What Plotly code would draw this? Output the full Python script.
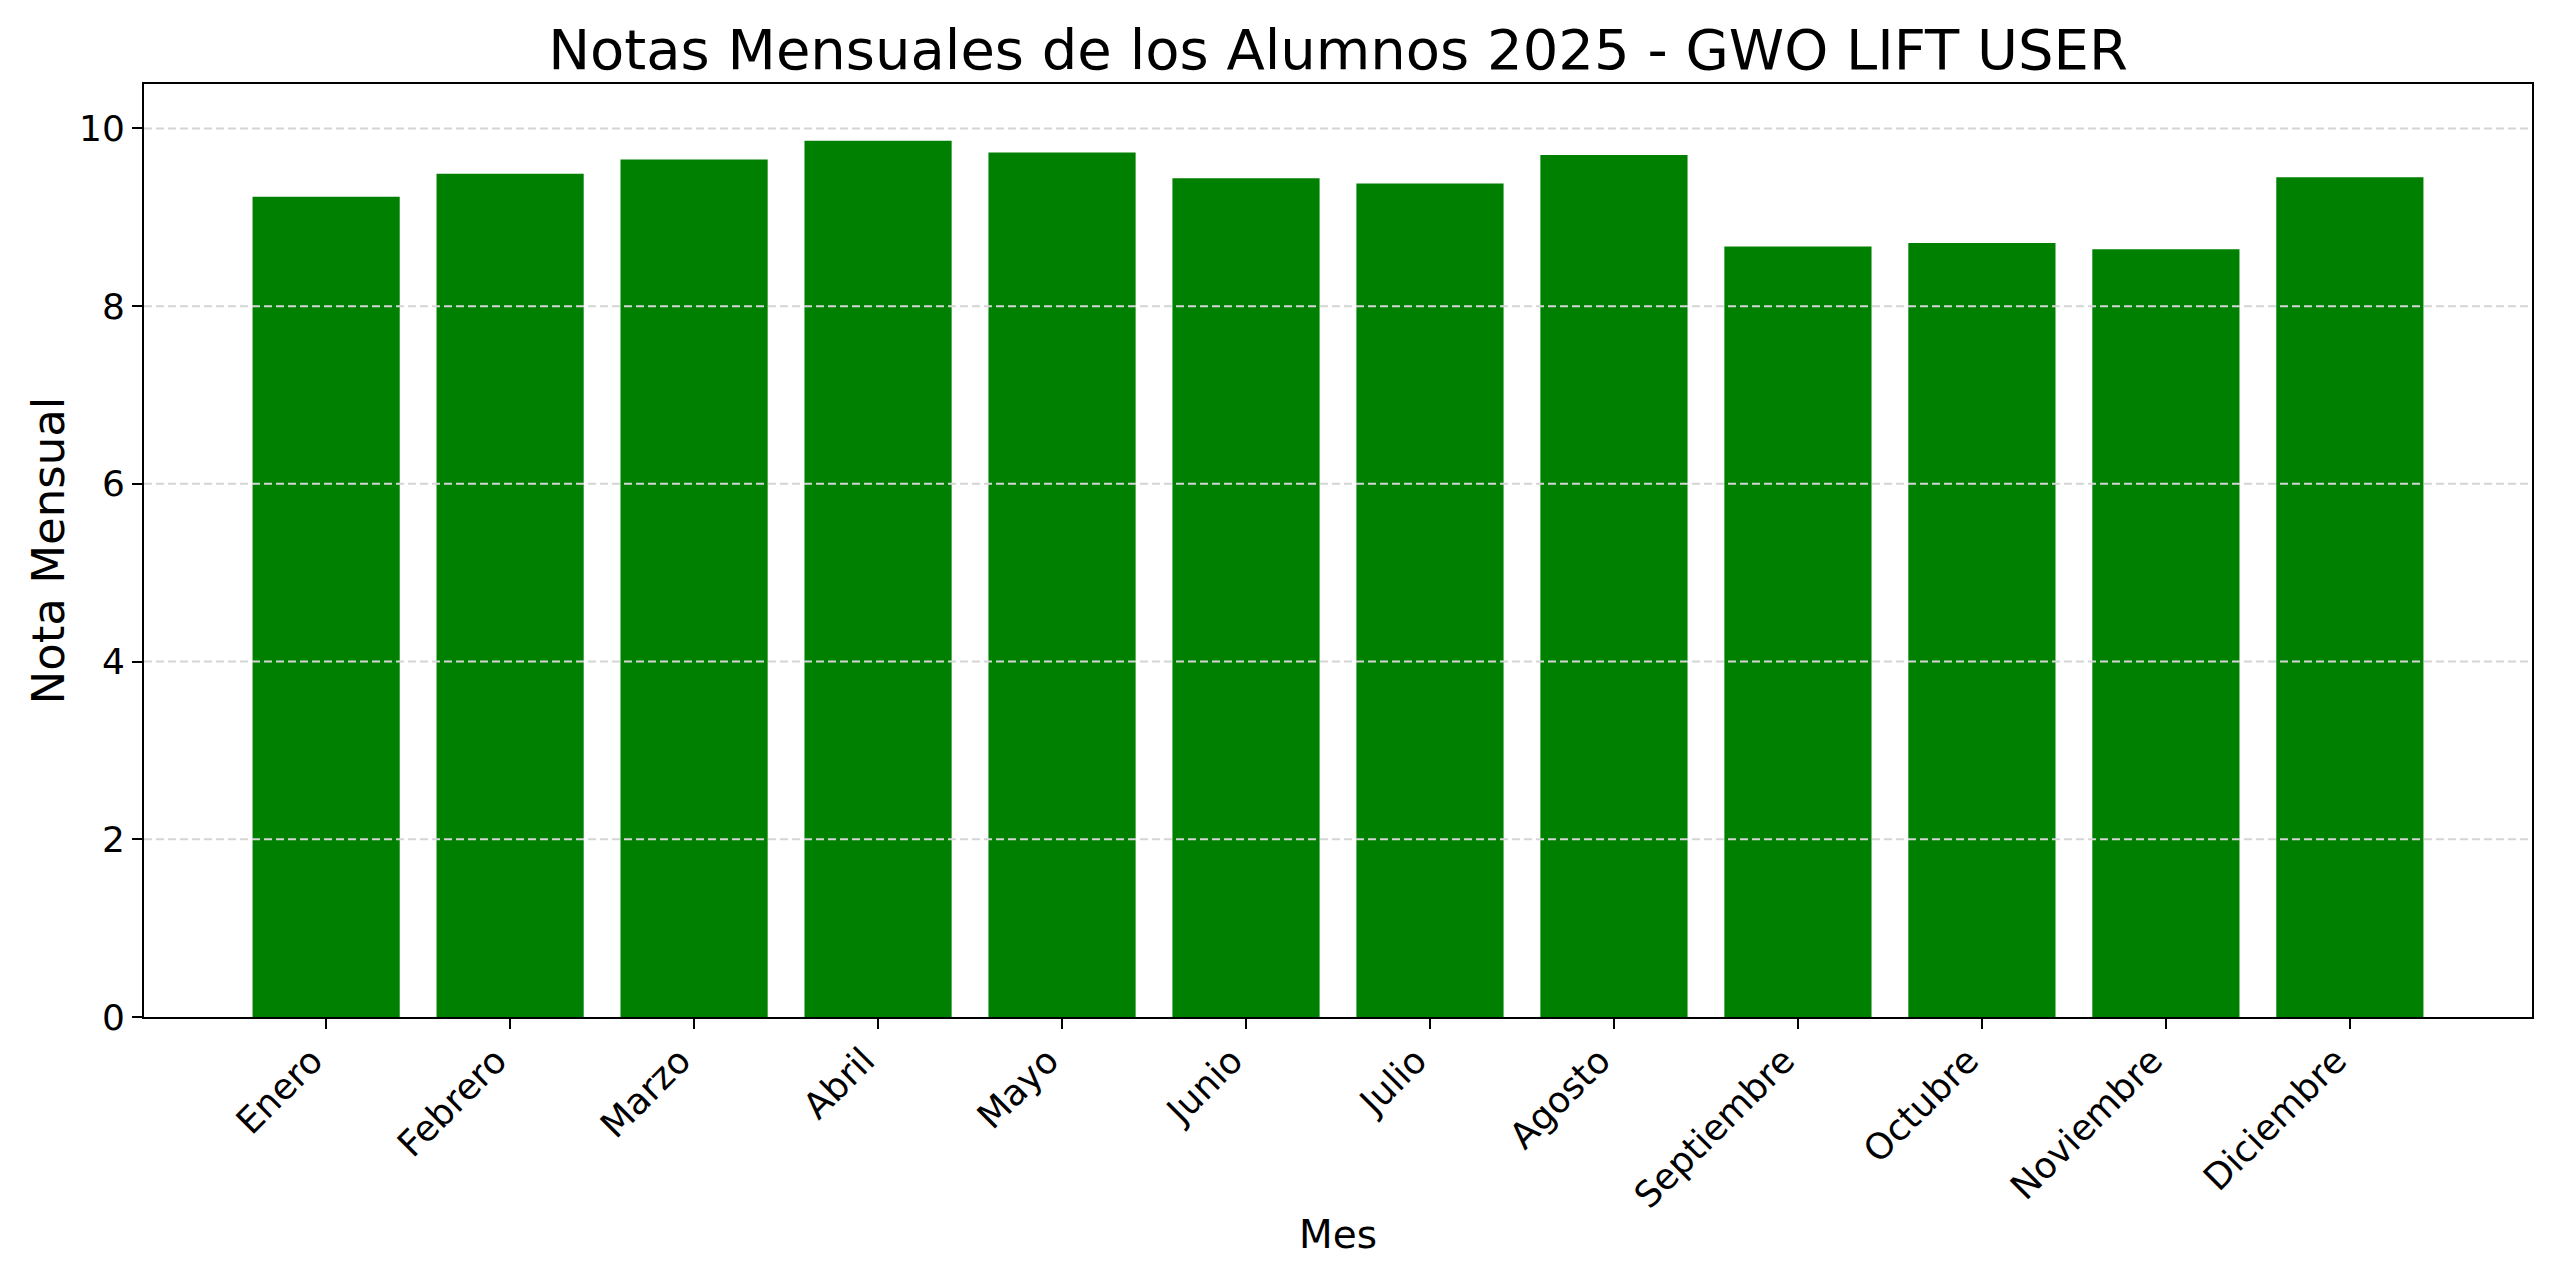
import plotly.graph_objects as go

meses = ["Enero", "Febrero", "Marzo", "Abril", "Mayo", "Junio", "Julio",
         "Agosto", "Septiembre", "Octubre", "Noviembre", "Diciembre"]
notas = [9.23, 9.49, 9.65, 9.86, 9.73, 9.44, 9.38, 9.70, 8.67, 8.71, 8.64, 9.45]
y_ticks = [0, 2, 4, 6, 8, 10]

FONT = "DejaVu Sans"

W, H = 2552, 1272
L, R, T, B = 136, 28, 76, 263
PW, PH = W - L - R, H - T - B

fig = go.Figure()
fig.add_trace(go.Bar(x=meses, y=notas, marker=dict(color="#008000", line=dict(width=0)),
                     width=0.8))

grid_shapes = [dict(type="line", xref="paper", x0=0, x1=1, yref="y", y0=t, y1=t,
                    line=dict(color="#d5d5d5", width=2, dash="8px,4px"), layer="above")
               for t in y_ticks if t > 0]

fig.update_layout(
    width=W, height=H,
    paper_bgcolor="white", plot_bgcolor="white",
    margin=dict(l=L, r=R, t=T, b=B, autoexpand=False),
    showlegend=False,
    title=dict(text="Notas Mensuales de los Alumnos 2025 - GWO LIFT USER",
               font=dict(family=FONT, size=56, color="black"),
               x=0.5, xref="paper", y=1 - 41 / H, yref="container",
               xanchor="center", yanchor="middle"),
    shapes=grid_shapes,
    annotations=[
        dict(text="Mes", xref="paper", x=0.5, yref="paper", y=-(1234 - 1017) / PH,
             showarrow=False, xanchor="center", yanchor="middle",
             font=dict(family=FONT, size=39, color="black")),
        dict(text="Nota Mensual", xref="paper", x=-(L - 40) / PW, yref="paper", y=0.5,
             showarrow=False, xanchor="center", yanchor="middle", textangle=-90,
             font=dict(family=FONT, size=45, color="black")),
    ],
)

fig.update_xaxes(
    type="category", range=[-0.99, 11.99],
    showline=True, linecolor="black", linewidth=2, mirror=True,
    ticks="outside", ticklen=10, tickwidth=2, tickcolor="black",
    tickangle=-45, showgrid=False, zeroline=False,
    ticklabelshift=-14, ticklabelstandoff=-4,
    tickfont=dict(family=FONT, size=36, color="black"), automargin=False,
)
fig.update_yaxes(
    range=[0, 10.5], tickvals=y_ticks, ticktext=[str(t) for t in y_ticks],
    showline=True, linecolor="black", linewidth=2, mirror=True,
    ticks="outside", ticklen=10, tickwidth=2, tickcolor="black",
    showgrid=False, zeroline=False,
    tickfont=dict(family=FONT, size=36, color="black"), automargin=False,
)

fig.write_html("out.html")
